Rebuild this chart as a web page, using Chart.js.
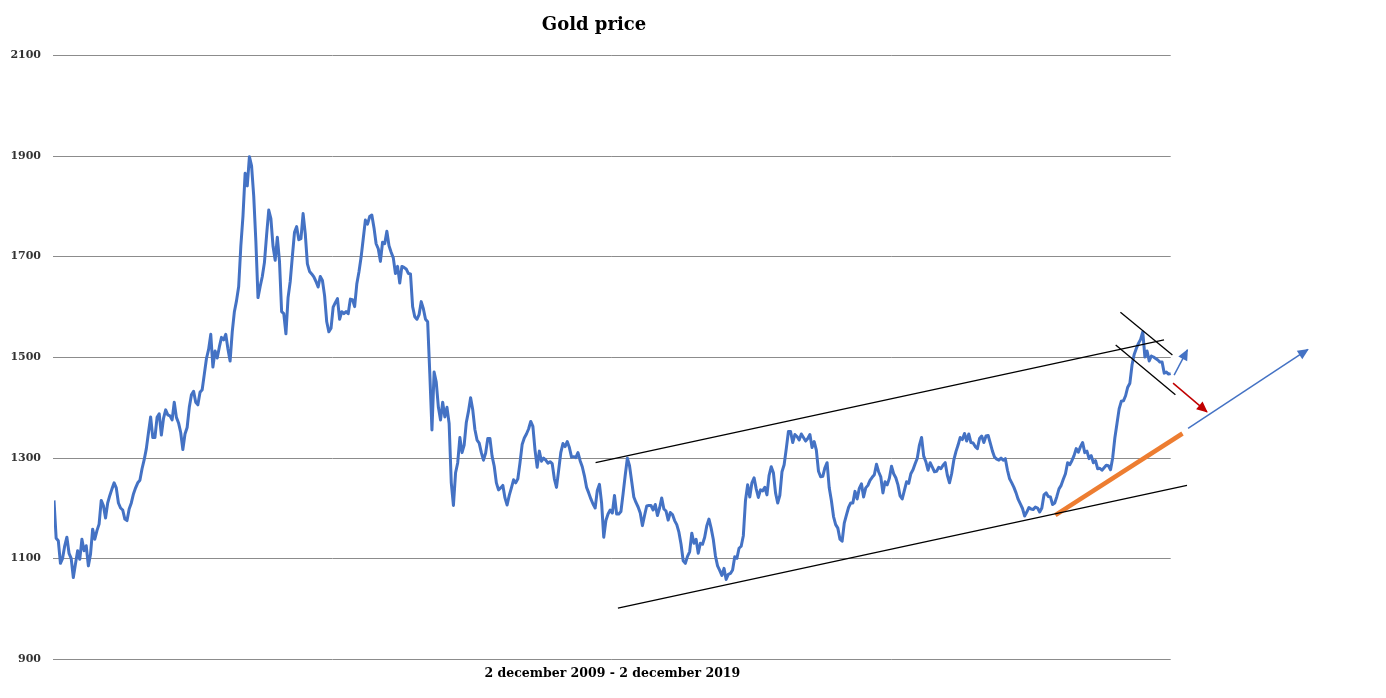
<!DOCTYPE html>
<html>
<head>
<meta charset="utf-8">
<title>Gold price</title>
<script src="https://cdn.jsdelivr.net/npm/chart.js@4.4.1/dist/chart.umd.min.js"></script>
<style>
    html, body { margin: 0; padding: 0; background: #fff; }
    #wrap { width: 1386px; height: 698px; }
</style>
</head>
<body>
<div id="wrap"><canvas id="goldChart" width="1386" height="698"></canvas></div>
<script>
// weekly gold price (USD/oz), one array per year, running dec to dec
let dec2009 = [1215,1140,1135,1090,1100,1125,1142,1110,1100,1062,
    1089,1115,1098,1138,1115,1125,1085,1108,1158,1138,
    1155,1168,1215,1205,1180,1210,1225,1238,1250,1240,
    1210,1200,1196,1178,1175,1198,1210,1228,1240,1250,
    1255,1278,1296,1318,1350,1381,1340,1340,1380,1387,
    1345,1378];
let dec2010 = [1395,1385,1383,1375,1410,1380,1369,1350,1316,1347,
    1360,1400,1425,1432,1410,1405,1430,1435,1466,1497,
    1515,1545,1480,1512,1498,1520,1539,1534,1545,1516,
    1492,1550,1590,1612,1640,1720,1780,1865,1840,1898,
    1880,1820,1730,1618,1640,1660,1688,1742,1792,1775,
    1720,1692];
let dec2011 = [1738,1690,1590,1586,1546,1618,1650,1700,1748,1759,
    1733,1735,1785,1745,1685,1670,1665,1659,1650,1639,
    1660,1652,1622,1570,1550,1557,1599,1608,1616,1575,
    1590,1586,1590,1586,1615,1614,1600,1645,1669,1698,
    1735,1772,1764,1779,1782,1757,1725,1715,1690,1728,
    1725,1750];
let dec2012 = [1721,1708,1697,1666,1680,1647,1680,1678,1675,1666,
    1665,1600,1580,1575,1584,1610,1596,1575,1570,1467,
    1355,1470,1450,1400,1375,1410,1381,1400,1368,1250,
    1205,1270,1290,1340,1310,1325,1370,1392,1419,1395,
    1356,1335,1329,1310,1295,1309,1338,1338,1303,1283,
    1250,1236];
let dec2013 = [1240,1245,1220,1206,1225,1240,1256,1250,1258,1290,
    1326,1339,1347,1357,1372,1362,1315,1281,1313,1293,
    1299,1295,1289,1292,1288,1258,1241,1275,1310,1328,
    1322,1332,1320,1301,1302,1300,1310,1294,1282,1264,
    1241,1230,1218,1208,1200,1235,1247,1210,1142,1175,
    1188,1196];
let dec2014 = [1190,1225,1188,1188,1193,1228,1265,1299,1284,1253,
    1222,1211,1202,1190,1165,1185,1204,1205,1205,1196,
    1207,1185,1200,1220,1198,1194,1176,1191,1187,1175,
    1167,1152,1128,1095,1090,1104,1113,1150,1130,1138,
    1110,1130,1128,1142,1165,1178,1160,1138,1105,1085,
    1076,1066];
let dec2015 = [1080,1058,1068,1070,1077,1103,1100,1120,1124,1145,
    1215,1246,1222,1250,1260,1238,1221,1236,1234,1241,
    1226,1265,1282,1270,1230,1210,1225,1272,1286,1318,
    1352,1352,1330,1346,1342,1335,1347,1340,1333,1338,
    1346,1320,1332,1315,1273,1262,1263,1280,1290,1240,
    1215,1183];
let dec2016 = [1167,1160,1138,1134,1170,1186,1201,1210,1210,1233,
    1218,1239,1248,1222,1240,1245,1255,1261,1266,1287,
    1272,1262,1230,1252,1246,1259,1283,1268,1260,1246,
    1224,1218,1235,1252,1249,1268,1276,1288,1299,1325,
    1340,1303,1292,1275,1290,1281,1272,1273,1281,1278,
    1285,1290];
let dec2017 = [1265,1250,1268,1295,1312,1325,1340,1336,1348,1333,
    1347,1330,1329,1322,1318,1338,1343,1330,1343,1344,
    1329,1313,1301,1297,1295,1299,1295,1298,1275,1258,
    1250,1241,1230,1217,1208,1199,1184,1192,1201,1198,
    1197,1202,1200,1192,1200,1226,1230,1223,1222,1207,
    1210,1223];
let dec2018 = [1238,1245,1257,1268,1290,1286,1294,1304,1318,1311,
    1322,1330,1310,1313,1298,1304,1290,1294,1278,1279,
    1275,1280,1285,1284,1276,1300,1339,1368,1397,1412,
    1413,1423,1440,1448,1484,1505,1517,1527,1535,1550,
    1500,1512,1492,1502,1500,1497,1494,1490,1490,1468,
    1470,1466,1467];

let yTicks = [900, 1100, 1300, 1500, 1700, 1900, 2100];
let chartTitle = "Gold price";
let periodLabel = "2 december 2009 - 2 december 2019";

// lines drawn on top of the chart, as [week, price]
let upperChannel = [[252.2, 1290], [516.9, 1534]];
let lowerChannel = [[262.6, 1001], [527.6, 1245]];
let flagTop = [[496.6, 1589], [520.8, 1504]];
let flagBottom = [[494.4, 1524], [522.2, 1425]];
let orangeTrend = [[466.3, 1186], [525.5, 1348]];
let blueArrowLong = [[528.1, 1358], [583.9, 1515]];
let blueArrowShort = [[521.6, 1464], [527.8, 1514]];
let redArrow = [[521.1, 1448], [536.9, 1391]];

let prices = [].concat(dec2009, dec2010, dec2011, dec2012, dec2013,
    dec2014, dec2015, dec2016, dec2017, dec2018);
let lastWeek = prices.length - 1;

function trendLine(points, color, width, arrow) {
    return {
        data: points.map(p => ({x: p[0], y: p[1]})),
        borderColor: color,
        borderWidth: width,
        pointRadius: 0,
        clip: false,
        order: 0,
        arrow: arrow
    };
}

// gridlines only run as far as the price data
const shortGrid = {
    id: "shortGrid",
    beforeDatasetsDraw(chart) {
        let ctx = chart.ctx;
        let x = chart.scales.x, y = chart.scales.y;
        let right = x.getPixelForValue(lastWeek);
        ctx.save();
        ctx.strokeStyle = "#8c8c8c";
        ctx.lineWidth = 1;
        yTicks.forEach(v => {
            let py = Math.round(y.getPixelForValue(v)) + 0.5;
            ctx.beginPath();
            ctx.moveTo(x.left - 1, py);
            ctx.lineTo(right, py);
            ctx.stroke();
        });
        ctx.restore();
    }
};

const arrowHeads = {
    id: "arrowHeads",
    afterDatasetsDraw(chart) {
        let ctx = chart.ctx;
        chart.data.datasets.forEach((ds, i) => {
            if (!ds.arrow) return;
            let pts = chart.getDatasetMeta(i).data;
            let a = pts[pts.length - 2], b = pts[pts.length - 1];
            let ang = Math.atan2(b.y - a.y, b.x - a.x);
            ctx.save();
            ctx.fillStyle = ds.borderColor;
            ctx.translate(b.x, b.y);
            ctx.rotate(ang);
            ctx.beginPath();
            ctx.moveTo(1, 0);
            ctx.lineTo(-10, -5);
            ctx.lineTo(-10, 5);
            ctx.closePath();
            ctx.fill();
            ctx.restore();
        });
    }
};

const labels = {
    id: "labels",
    afterDraw(chart) {
        let ctx = chart.ctx;
        let x = chart.scales.x;
        ctx.save();
        ctx.fillStyle = "#000";
        ctx.textAlign = "center";
        ctx.textBaseline = "alphabetic";
        ctx.font = "bold 18px 'DejaVu Serif'";
        ctx.fillText(chartTitle, 594, 30);
        ctx.font = "bold 12.5px 'DejaVu Serif'";
        let mid = (x.getPixelForValue(0) + x.getPixelForValue(lastWeek)) / 2;
        ctx.fillText(periodLabel, mid, 677);
        ctx.restore();
    }
};

new Chart(document.getElementById("goldChart"), {
    type: "line",
    data: {
        datasets: [
            trendLine(upperChannel, "#000000", 1.3, false),
            trendLine(lowerChannel, "#000000", 1.3, false),
            trendLine(flagTop, "#000000", 1.3, false),
            trendLine(flagBottom, "#000000", 1.3, false),
            trendLine(orangeTrend, "#ED7D31", 4.5, false),
            trendLine(blueArrowLong, "#4472C4", 1.5, true),
            trendLine(blueArrowShort, "#4472C4", 1.5, true),
            trendLine(redArrow, "#C00000", 1.5, true),
            {
                label: chartTitle,
                data: prices.map((v, i) => ({x: i, y: v})),
                borderColor: "#4472C4",
                borderWidth: 3,
                borderJoinStyle: "round",
                pointRadius: 0,
                tension: 0,
                order: 1
            }
        ]
    },
    options: {
        responsive: false,
        animation: false,
        layout: {padding: {left: 0, right: 65, top: 55, bottom: 39}},
        plugins: {
            legend: {display: false},
            tooltip: {enabled: false},
            title: {display: false}
        },
        scales: {
            x: {
                type: "linear",
                min: 0,
                max: 590,
                display: false
            },
            y: {
                min: 900,
                max: 2100,
                afterBuildTicks: (scale) => { scale.ticks = yTicks.map(v => ({value: v})); },
                afterFit: (scale) => { scale.width = 54; },
                grid: {display: false, drawTicks: false},
                border: {display: false},
                ticks: {
                    padding: 13,
                    color: "#333333",
                    font: {family: "DejaVu Serif", size: 11, weight: "bold"},
                    callback: (value) => String(value)
                }
            }
        }
    },
    plugins: [shortGrid, arrowHeads, labels]
});
</script>
</body>
</html>
